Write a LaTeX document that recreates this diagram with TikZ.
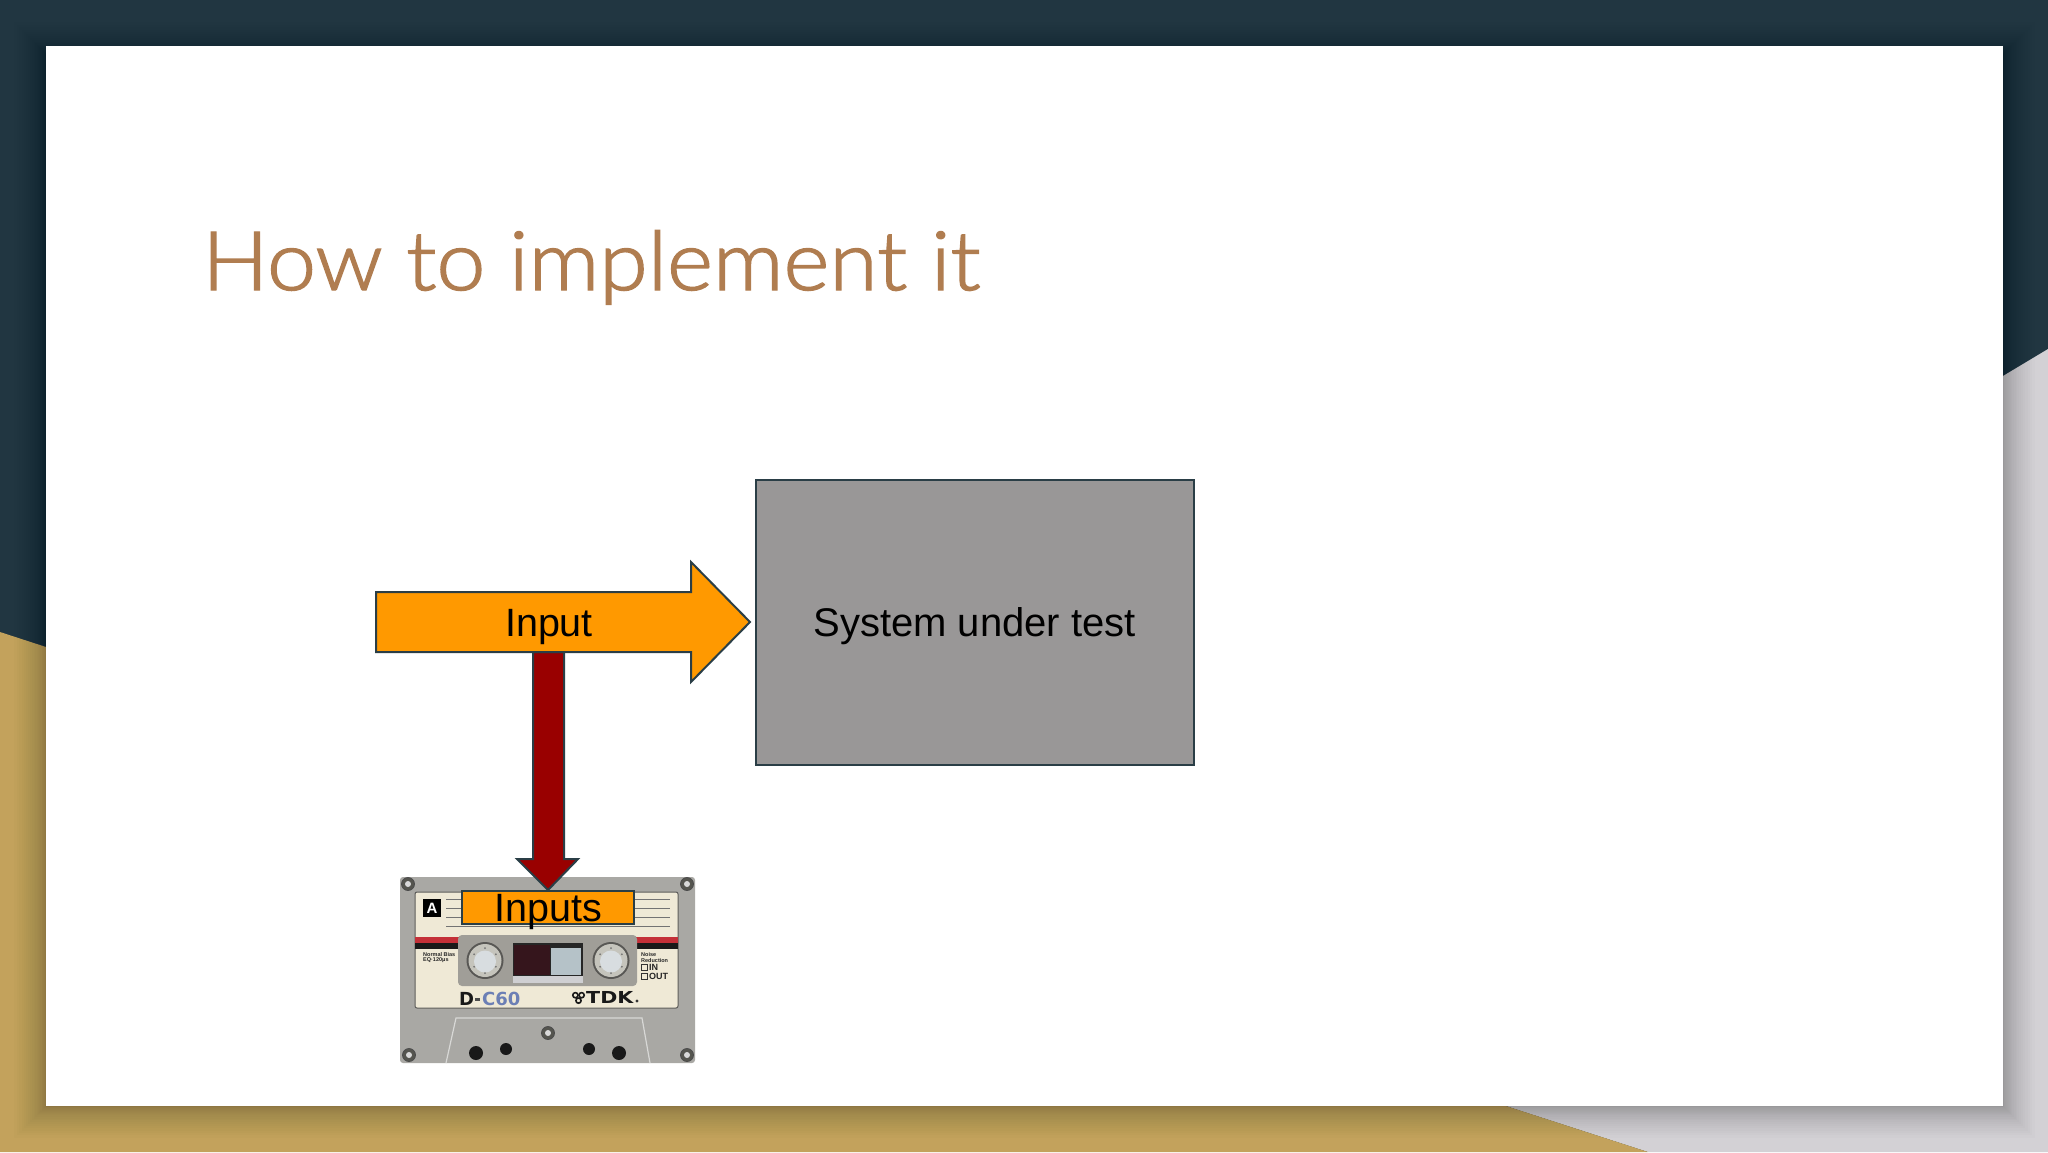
\documentclass[tikz,border=0pt]{standalone}
\usepackage{fontspec}
\setmainfont{Liberation Sans}
\newfontfamily\titlefont[FakeBold=1.8]{Lato Light}
\newfontfamily\tapefont{DejaVu Sans}
\usetikzlibrary{calc}
\definecolor{bgdark}{HTML}{213641}
\definecolor{bggold}{HTML}{C3A25C}
\definecolor{bggray}{HTML}{D3D1D5}
\definecolor{titlebrown}{HTML}{B07D50}
\definecolor{shapeedge}{HTML}{2A3E46}
\definecolor{boxgray}{HTML}{999797}
\definecolor{arroworange}{HTML}{FF9900}
\definecolor{arrowred}{HTML}{990000}
\definecolor{casegray}{HTML}{A9A8A4}
\definecolor{casecream}{HTML}{EFE9D6}
\definecolor{hubpanel}{HTML}{A09E98}
\definecolor{hubring}{HTML}{C5C4BC}
\definecolor{hubcentre}{HTML}{D8DDE0}
\definecolor{screwdark}{HTML}{55554F}
\definecolor{tapered}{HTML}{C43038}
\definecolor{windowdark}{HTML}{35151C}
\definecolor{windowlight}{HTML}{B5C2C8}
\definecolor{stripbright}{HTML}{CFCFD2}
\definecolor{cseries}{HTML}{6C7FB5}
\tikzset{
  x=1pt,y=-1pt,
  shapeline/.style={draw=shapeedge,line width=2pt,line join=miter},
  boxtext/.style={font=\fontsize{39.5}{44}\selectfont,text=black,inner sep=0pt,anchor=base},
  hole/.style={fill=black!90},
  screw/.style={fill=screwdark,draw=black!70,line width=0.8pt},
  tinytext/.style={font=\fontsize{5.5}{5.5}\selectfont\bfseries,text=black!85,inner sep=0pt,anchor=west,align=left},
  tapelabel/.style={inner sep=0pt,anchor=base west,font=\tapefont\fontsize{18}{20}\selectfont\bfseries},
  checktext/.style={inner sep=0pt,anchor=west,font=\fontsize{9}{10}\selectfont\bfseries,text=black!85},
}
\begin{document}
\begin{tikzpicture}
\useasboundingbox (0,0) rectangle (2048,1152);
% background
\fill[bgdark] (0,0) rectangle (2048,1152);
\fill[bggray] (2048,349) -- (2003,376) -- (1506,1106) -- (1648,1152) -- (2048,1152) -- cycle;
\fill[bggold] (0,632) -- (46,647) -- (46,1106) -- (1506,1106) -- (1648,1152) -- (0,1152) -- cycle;
% slide shadow
\foreach \i in {1,...,24}{
  \pgfmathsetmacro{\e}{\i*\i/18}
  \fill[black,opacity=0.012] ({46-\e},{54-\e}) rectangle ({2003+\e},{1106+\e});
}
\fill[white] (46,46) rectangle (2003,1106);
% title
\node[font=\titlefont\fontsize{82}{90}\selectfont,text=titlebrown,inner sep=0pt,anchor=base west] (title) at (202,290) {\scalebox{1.07}[1]{How to implement it}};
% system box
\node[shapeline,fill=boxgray,minimum width=438pt,minimum height=284.5pt,inner sep=0pt,anchor=north west] (sut) at (755,479) {};
\node[boxtext,font=\fontsize{40}{44}\selectfont] (sutlabel) at (974.5,636) {System under test};
% cassette body
\fill[casegray,rounded corners=3pt] (400,877) rectangle (695,1063);
\filldraw[fill=casecream,draw=black!45!casegray,line width=1pt,rounded corners=2pt] (415,892) rectangle (678,1008);
\draw[white!55!casegray,line width=1.2pt] (446,1063) -- (456,1018) -- (642,1018) -- (650,1063);
\fill[black] (423,899) rectangle (441,917);
\node[text=white,font=\fontsize{15}{15}\selectfont\bfseries,inner sep=0pt] (sideA) at (432,908) {A};
\foreach \ly in {899,908,917,926}{
  \draw[black!55,line width=0.9pt] (446,\ly) -- (670,\ly);
}
\fill[tapered] (415,936.5) rectangle (678,943);
\fill[black!90] (415,943) rectangle (678,949);
\fill[hubpanel,rounded corners=4pt] (458,935) rectangle (637,986);
\foreach \hx in {485,611}{
  \fill[black!45!hubpanel] (\hx,960.5) circle (18.5);
  \fill[hubring] (\hx,960.5) circle (16.5);
  \fill[hubcentre] (\hx,961.5) circle (11);
  \foreach \a in {30,90,150,210,270,330}{
    \fill[black!55] ($(\hx,960.5)+(\a:12.5)$) circle (1);
  }
}
\fill[black!85] (513,943) rectangle (583,976);
\fill[windowdark] (514,945) rectangle (550,975);
\fill[windowlight] (551,948) rectangle (581,975);
\fill[stripbright] (513,976) rectangle (583,983);
\node[tinytext] (bias) at (423,957.5) {Normal Bias\\EQ·120μs};
\node[tinytext] (noise) at (641,957.5) {Noise\\Reduction};
\draw[black!80,line width=0.7pt] (641,964) rectangle (647,970) (641,973) rectangle (647,979);
\node[checktext] (inlab) at (649,967) {IN};
\node[checktext] (outlab) at (649,976) {OUT};
\node[tapelabel,text=black!90] (dash) at (459,1005) {D};
\fill[black!70] (475,998) rectangle (480,1000.5);
\node[tapelabel,text=cseries] (c60) at (482,1005) {C60};
\node[tapelabel,font=\tapefont\fontsize{16.5}{20}\selectfont\bfseries,text=black!90] (tdk) at (586,1003) {\scalebox{1.25}[1]{TDK}};
\foreach \a in {90,210,330}{
  \draw[black!90,line width=1.6pt] ($(578.5,997)+(\a:3.6)$) circle (2.6);
}
\fill[black!80] (637,1001) circle (1.6);
\foreach \sx/\sy in {408/884,687/884,409/1055,687/1055,548/1033}{
  \fill[screw] (\sx,\sy) circle (6.5);
  \fill[black!15] (\sx,\sy) circle (3);
}
\foreach \hx/\hy/\hr in {476/1053/7,506/1049/6,589/1049/6,619/1053/7}{
  \fill[hole] (\hx,\hy) circle (\hr);
}
% down arrow
\filldraw[shapeline,fill=arrowred] (533,652) -- (564,652) -- (564,859) -- (578,859) -- (548,890) -- (517,859) -- (533,859) -- cycle;
% input arrow
\filldraw[shapeline,fill=arroworange] (376,592) -- (691,592) -- (691,562) -- (750,622) -- (691,682) -- (691,652) -- (376,652) -- cycle;
\node[boxtext] (inputlabel) at (549,636) {Input};
% inputs label
\node[shapeline,fill=arroworange,minimum width=172pt,minimum height=33pt,inner sep=0pt,anchor=north west] (inputsbox) at (461,890) {};
\node[boxtext] (inputslabel) at (548,921) {Inputs};
\end{tikzpicture}
\end{document}
